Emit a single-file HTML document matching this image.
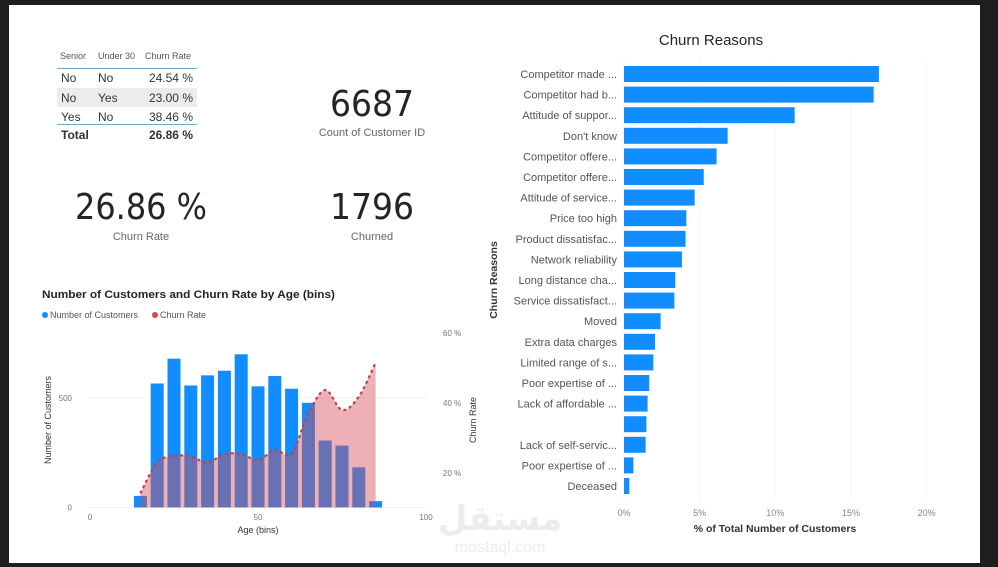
<!DOCTYPE html>
<html><head><meta charset="utf-8">
<style>
body{margin:0;width:998px;height:567px;background:#1e1e20;overflow:hidden;font-family:"Liberation Sans",sans-serif;}
#page{position:absolute;left:9px;top:5px;width:971px;height:558px;background:#fff;}
</style></head>
<body>
<div id="page"></div>
<svg id="svg" width="998" height="567" style="position:absolute;left:0;top:0">
  <g font-family="Liberation Sans, sans-serif" fill="#333">
    <text x="60" y="59" font-size="9" fill="#555">Senior</text>
    <text x="98" y="59" font-size="9" fill="#555">Under 30</text>
    <text x="145" y="59" font-size="9" fill="#555">Churn Rate</text>
    <line x1="57" y1="68.5" x2="197" y2="68.5" stroke="#6aa9c9" stroke-width="1"/>
    <rect x="57" y="88" width="140" height="19" fill="#ececec"/>
    <text x="61" y="82" font-size="12">No</text><text x="98" y="82" font-size="12">No</text><text x="193" y="82" font-size="12" text-anchor="end">24.54 %</text>
    <text x="61" y="102" font-size="12">No</text><text x="98" y="102" font-size="12">Yes</text><text x="193" y="102" font-size="12" text-anchor="end">23.00 %</text>
    <text x="61" y="121" font-size="12">Yes</text><text x="98" y="121" font-size="12">No</text><text x="193" y="121" font-size="12" text-anchor="end">38.46 %</text>
    <line x1="57" y1="124.5" x2="197" y2="124.5" stroke="#6aa9c9" stroke-width="1"/>
    <text x="61" y="139" font-size="12" font-weight="bold">Total</text><text x="193" y="139" font-size="12" font-weight="bold" text-anchor="end">26.86 %</text>
  </g>
  <g font-family="DejaVu Sans, sans-serif" fill="#252423">
    <text x="372" y="116" font-size="36" text-anchor="middle" textLength="84" lengthAdjust="spacingAndGlyphs">6687</text>
    <text x="372" y="136" font-size="11" fill="#666" font-family="Liberation Sans, sans-serif" text-anchor="middle">Count of Customer ID</text>
    <text x="141" y="219" font-size="36" text-anchor="middle" textLength="132" lengthAdjust="spacingAndGlyphs">26.86 %</text>
    <text x="141" y="240" font-size="11" fill="#666" font-family="Liberation Sans, sans-serif" text-anchor="middle">Churn Rate</text>
    <text x="372" y="219" font-size="36" text-anchor="middle" textLength="84" lengthAdjust="spacingAndGlyphs">1796</text>
    <text x="372" y="240" font-size="11" fill="#666" font-family="Liberation Sans, sans-serif" text-anchor="middle">Churned</text>
  </g>
  <text x="42" y="298" font-size="11" font-weight="bold" fill="#252423" textLength="293" lengthAdjust="spacingAndGlyphs">Number of Customers and Churn Rate by Age (bins)</text>
  <circle cx="45" cy="315" r="3" fill="#118dff"/>
  <text x="50" y="318" font-size="9" fill="#555">Number of Customers</text>
  <circle cx="155" cy="315" r="3" fill="#d64550"/>
  <text x="160" y="318" font-size="9" fill="#555">Churn Rate</text>
  <text transform="translate(51,420) rotate(-90)" font-size="9" fill="#333" text-anchor="middle">Number of Customers</text>
  <text transform="translate(476,420) rotate(-90)" font-size="9" fill="#333" text-anchor="middle">Churn Rate</text>
  <text x="258" y="533" font-size="9" fill="#333" text-anchor="middle">Age (bins)</text>
  <g id="age"></g>
  <text x="711" y="45" font-size="15" fill="#252423" text-anchor="middle">Churn Reasons</text>
  <text transform="translate(497,280) rotate(-90)" font-size="10.5" font-weight="bold" fill="#333" text-anchor="middle">Churn Reasons</text>
  <text x="775" y="532" font-size="10.5" font-weight="bold" fill="#333" text-anchor="middle">% of Total Number of Customers</text>
  <g id="reasons"></g>
  <g fill="#ececec" text-anchor="middle">
    <text x="500" y="530" font-size="34" font-weight="bold" font-family="DejaVu Sans, sans-serif">مستقل</text>
    <text x="500" y="552" font-size="16" font-family="Liberation Sans, sans-serif">mostaql.com</text>
  </g>
</svg>
<script>
const ageBins=[15,20,25,30,35,40,45,50,55,60,65,70,75,80,85];
const customers=[53,565,678,556,602,623,698,552,599,541,477,305,282,183,29];
const churnRate=[14.2,23,24.9,24.7,23,25.4,25.4,23.7,26.6,25.6,37,43.7,38,41.8,51.5];
const ageTicks=[0,50,100];
const custTicks=[0,500];
const rateTicks=[20,40,60];

const reasons=["Competitor made ...","Competitor had b...","Attitude of suppor...","Don't know","Competitor offere...","Competitor offere...","Attitude of service...","Price too high","Product dissatisfac...","Network reliability","Long distance cha...","Service dissatisfact...","Moved","Extra data charges","Limited range of s...","Poor expertise of ...","Lack of affordable ...","","Lack of self-servic...","Poor expertise of ...","Deceased"];
const reasonPct=[16.85,16.5,11.28,6.85,6.12,5.27,4.67,4.12,4.07,3.83,3.39,3.33,2.42,2.05,1.94,1.67,1.56,1.48,1.43,0.62,0.35];
const pctTicks=[0,5,10,15,20];

const NS="http://www.w3.org/2000/svg";
function mk(tag,attrs,parent,txt){const e=document.createElementNS(NS,tag);for(const k in attrs)e.setAttribute(k,attrs[k]);if(txt!==undefined)e.textContent=txt;parent.appendChild(e);return e;}

const ag=document.getElementById('age');
const ax=v=>90+v*3.36;
const ayL=v=>507.5-v*0.2195;
const ayR=v=>543-v*3.5;
custTicks.forEach(t=>{
  const l=mk('line',{x1:88,x2:428,y1:ayL(t),y2:ayL(t),stroke:'#f3f3f3'},ag);
  
  
  const tx=mk('text',{x:72,y:ayL(t)+3,'font-size':8,fill:'#777','text-anchor':'end'},ag,String(t));
  
  
});
rateTicks.forEach(t=>{
  const tx=mk('text',{x:443,y:ayR(t)+3,'font-size':8,fill:'#777'},ag,t+' %');
  
  
});
ageTicks.forEach(t=>{
  const tx=mk('text',{x:ax(t),y:520,'font-size':8,fill:'#777','text-anchor':'middle'},ag,String(t));
  
  
});
ageBins.forEach((b,i)=>{
  const r=mk('rect',{x:ax(b)-6.5,y:ayL(customers[i]),width:13,height:ayL(0)-ayL(customers[i]),fill:'#118dff'},ag);
  
  
});
const pts=ageBins.map((b,i)=>[ax(b),ayR(churnRate[i])]);
let d='M'+pts[0][0]+','+pts[0][1];
for(let i=0;i<pts.length-1;i++){
  const p0=pts[Math.max(0,i-1)],p1=pts[i],p2=pts[i+1],p3=pts[Math.min(pts.length-1,i+2)];
  const c1=[p1[0]+(p2[0]-p0[0])/6,p1[1]+(p2[1]-p0[1])/6];
  const c2=[p2[0]-(p3[0]-p1[0])/6,p2[1]-(p3[1]-p1[1])/6];
  d+=' C'+c1.join(',')+' '+c2.join(',')+' '+p2.join(',');
}
const area=mk('path',{d:d+' L'+pts[pts.length-1][0]+','+ayL(0)+' L'+pts[0][0]+','+ayL(0)+' Z',fill:'rgba(212,80,92,0.45)'},ag);


const line=mk('path',{d:d,fill:'none',stroke:'#c0404c','stroke-width':2.2,'stroke-dasharray':'3,3'},ag);



const rg=document.getElementById('reasons');
const rx=v=>624+v*15.13;
const ry=i=>66+i*20.6;
pctTicks.forEach(t=>{
  const l=mk('line',{x1:rx(t),x2:rx(t),y1:60,y2:500,stroke:'#f5f5f5'},rg);
  
  
  const tx=mk('text',{x:rx(t),y:516,'font-size':9,fill:'#888','text-anchor':'middle'},rg,t+'%');
  
  
});
reasons.forEach((r,i)=>{
  const tx=mk('text',{x:617,y:ry(i)+12,'font-size':11,fill:'#555','text-anchor':'end'},rg,r);
  
  
  const b=mk('rect',{x:rx(0),y:ry(i),width:rx(reasonPct[i])-rx(0),height:16,fill:'#118dff'},rg);
  
  
});
</script>
</body></html>
